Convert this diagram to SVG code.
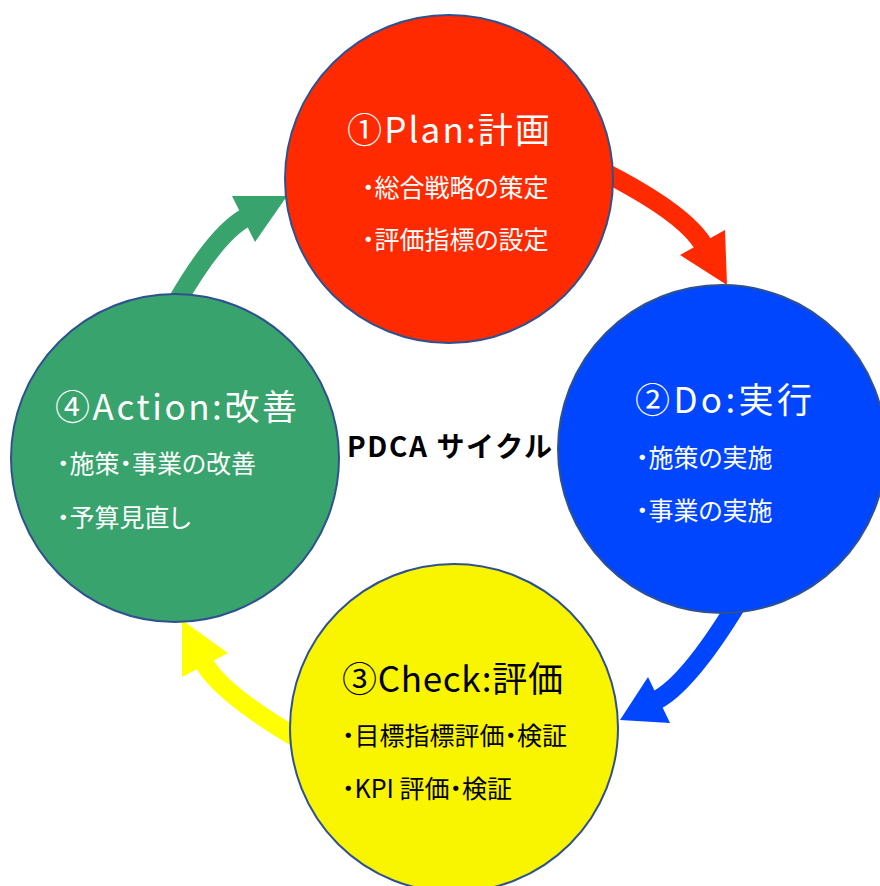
<svg xmlns="http://www.w3.org/2000/svg" width="880" height="886" viewBox="0 0 880 886">
<style>
  .node { stroke: #2F528F; stroke-width: 2; }
  .title { font-family: "Noto Sans CJK JP", "Noto Sans", sans-serif; font-size: 35px; }
  .item { font-family: "Noto Sans CJK JP", "Noto Sans", sans-serif; font-size: 25px; font-feature-settings: "palt"; }
  .w { fill: #FFFFFF; }
  .k { fill: #000000; }
  .shaft { fill: none; stroke-width: 19; stroke-linecap: butt; }
  .center { font-family: "Noto Sans CJK JP", "Noto Sans", sans-serif; font-size: 28px; font-weight: bold; fill: #000000; }
</style>
<rect width="880" height="886" fill="#FFFFFF"/>
<g id="connectors">
  <g id="arrow-plan-do">
    <path class="shaft" stroke="#FF2A00" d="M600,170 Q685.6,213.2 704,246"/>
    <polygon fill="#FF2A00" points="680,255 725,230 727,285"/>
  </g>
  <g id="arrow-do-check">
    <path class="shaft" stroke="#0046FF" d="M737,604 Q687.2,685.4 655,701"/>
    <polygon fill="#0046FF" points="648,677 670,723 620,720"/>
  </g>
  <g id="arrow-check-action">
    <path class="shaft" stroke="#FFFF00" d="M302,741 Q219.4,693.1 203,661"/>
    <polygon fill="#FFFF00" points="228,653 182,677 182,620"/>
  </g>
  <g id="arrow-action-plan">
    <path class="shaft" stroke="#38A36C" d="M175,305 Q216.5,232.4 247,217"/>
    <polygon fill="#38A36C" points="232,196 255,242 287,196"/>
  </g>
</g>
<g id="plan">
  <circle class="node" cx="449" cy="179" r="164" fill="#FF2A00"/>
  <text class="title w" x="347" y="143" textLength="203">①Plan:計画</text>
  <text class="item w" x="362" y="197">・総合戦略の策定</text>
  <text class="item w" x="362" y="249">・評価指標の設定</text>
</g>
<g id="do">
  <circle class="node" cx="722" cy="449" r="164" fill="#0046FF"/>
  <text class="title w" x="635" y="413" textLength="177">②Do:実行</text>
  <text class="item w" x="636" y="467">・施策の実施</text>
  <text class="item w" x="636" y="520">・事業の実施</text>
</g>
<g id="check">
  <circle class="node" cx="454" cy="728" r="164" fill="#F9F400"/>
  <text class="title k" x="342" y="692" textLength="221">③Check:評価</text>
  <text class="item k" x="342" y="745">・目標指標評価・検証</text>
  <text class="item k" x="342" y="798">・KPI 評価・検証</text>
</g>
<g id="action">
  <circle class="node" cx="175" cy="458" r="164" fill="#38A36C"/>
  <text class="title w" x="55" y="420" textLength="242">④Action:改善</text>
  <text class="item w" x="57" y="473">・施策・事業の改善</text>
  <text class="item w" x="57" y="527">・予算見直し</text>
</g>
<g id="label">
  <text class="center" x="347" y="457" textLength="205">PDCA サイクル</text>
</g>
</svg>
